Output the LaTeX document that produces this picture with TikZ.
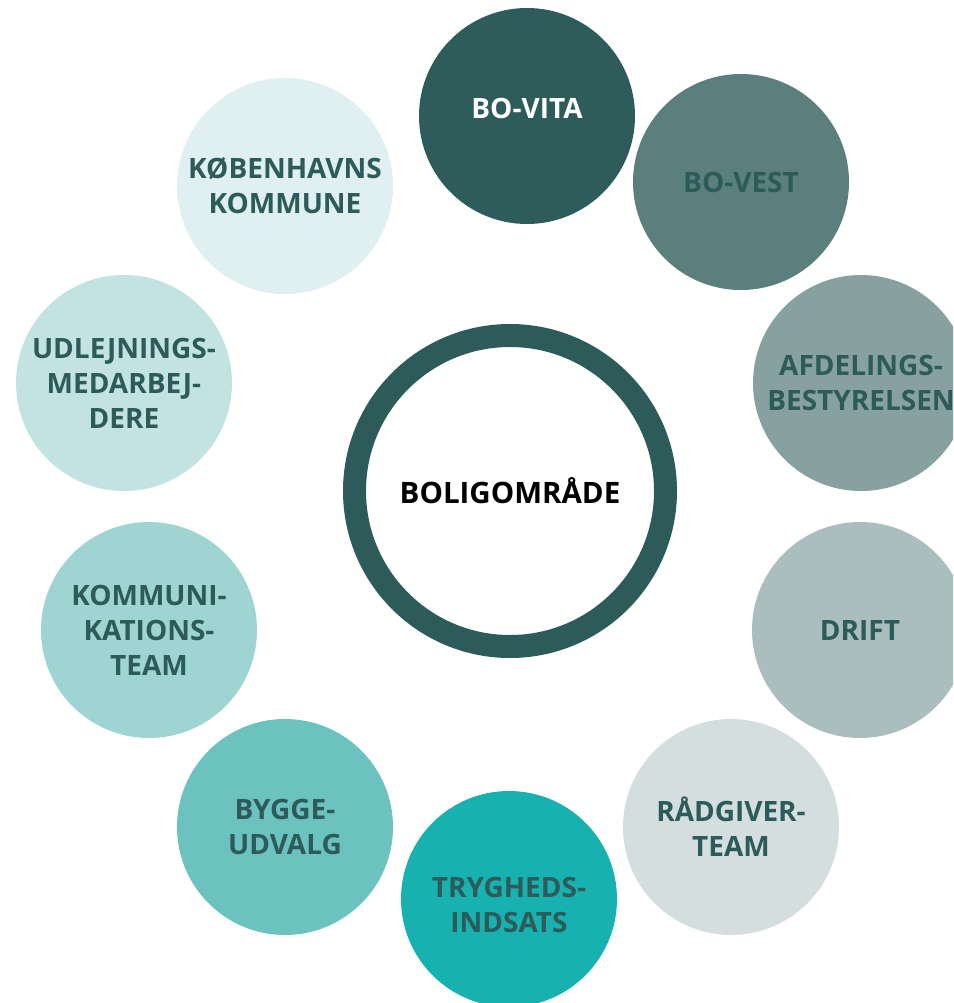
\documentclass[tikz,border=0pt]{standalone}
\usepackage{fontspec}
\setmainfont{Open Sans}

\definecolor{mork}{HTML}{2D5B5A}
\definecolor{fvita}{HTML}{2E5C5B}
\definecolor{fvest}{HTML}{5B7F7D}
\definecolor{fafd}{HTML}{87A1A0}
\definecolor{fdrift}{HTML}{AABEBD}
\definecolor{fraad}{HTML}{D5DEDF}
\definecolor{ftryg}{HTML}{17B2AF}
\definecolor{fbygge}{HTML}{6CC2BF}
\definecolor{fkomm}{HTML}{9ED5D2}
\definecolor{fudl}{HTML}{C3E3E2}
\definecolor{fkbh}{HTML}{E0F0F0}

\begin{document}
\begin{tikzpicture}[x=1pt, y=-1pt,
  bubble/.style={circle, minimum size=216pt, inner sep=0pt, align=center,
    font=\fontsize{28}{35}\selectfont\bfseries, text=mork},
  tekst/.style={inner sep=0pt, align=center,
    font=\fontsize{28}{35}\selectfont\bfseries, text=mork}]
\useasboundingbox (0,0) rectangle (953,1003);
\clip (0,0) rectangle (953,1003);
% centre ring
\node[circle, draw=mork, line width=23pt, minimum size=311pt, inner sep=0pt,
  font=\fontsize{29.5}{35}\selectfont\bfseries, text=black] (omr) at (510,491){BOLIGOMRÅDE};
% bubbles, clockwise from the top
\node[bubble, fill=fvita] (vita) at (527,116){};
\node[tekst, text=white] (vitatxt) at ([yshift=8pt]vita.center){BO-VITA};
\node[bubble, fill=fvest] (vest) at (741,182){BO-VEST};
\node[bubble, fill=fafd] (afd) at (861,383){AFDELINGS-\\BESTYRELSEN};
\node[bubble, fill=fdrift] (drift) at (860,630){DRIFT};
\node[bubble, fill=fraad] (raad) at (731,827){RÅDGIVER-\\TEAM};
\node[bubble, fill=ftryg] (tryg) at (509,899){};
\node[tekst] (trygtxt) at ([yshift=-6pt]tryg.center){TRYGHEDS-\\INDSATS};
\node[bubble, fill=fbygge] (bygge) at (285,827){BYGGE-\\UDVALG};
\node[bubble, fill=fkomm] (komm) at (149,630){KOMMUNI-\\KATIONS-\\TEAM};
\node[bubble, fill=fudl] (udl) at (124,383){UDLEJNINGS-\\MEDARBEJ-\\DERE};
\node[bubble, fill=fkbh] (kbh) at (285,186){KØBENHAVNS\\KOMMUNE};
\end{tikzpicture}
\end{document}
